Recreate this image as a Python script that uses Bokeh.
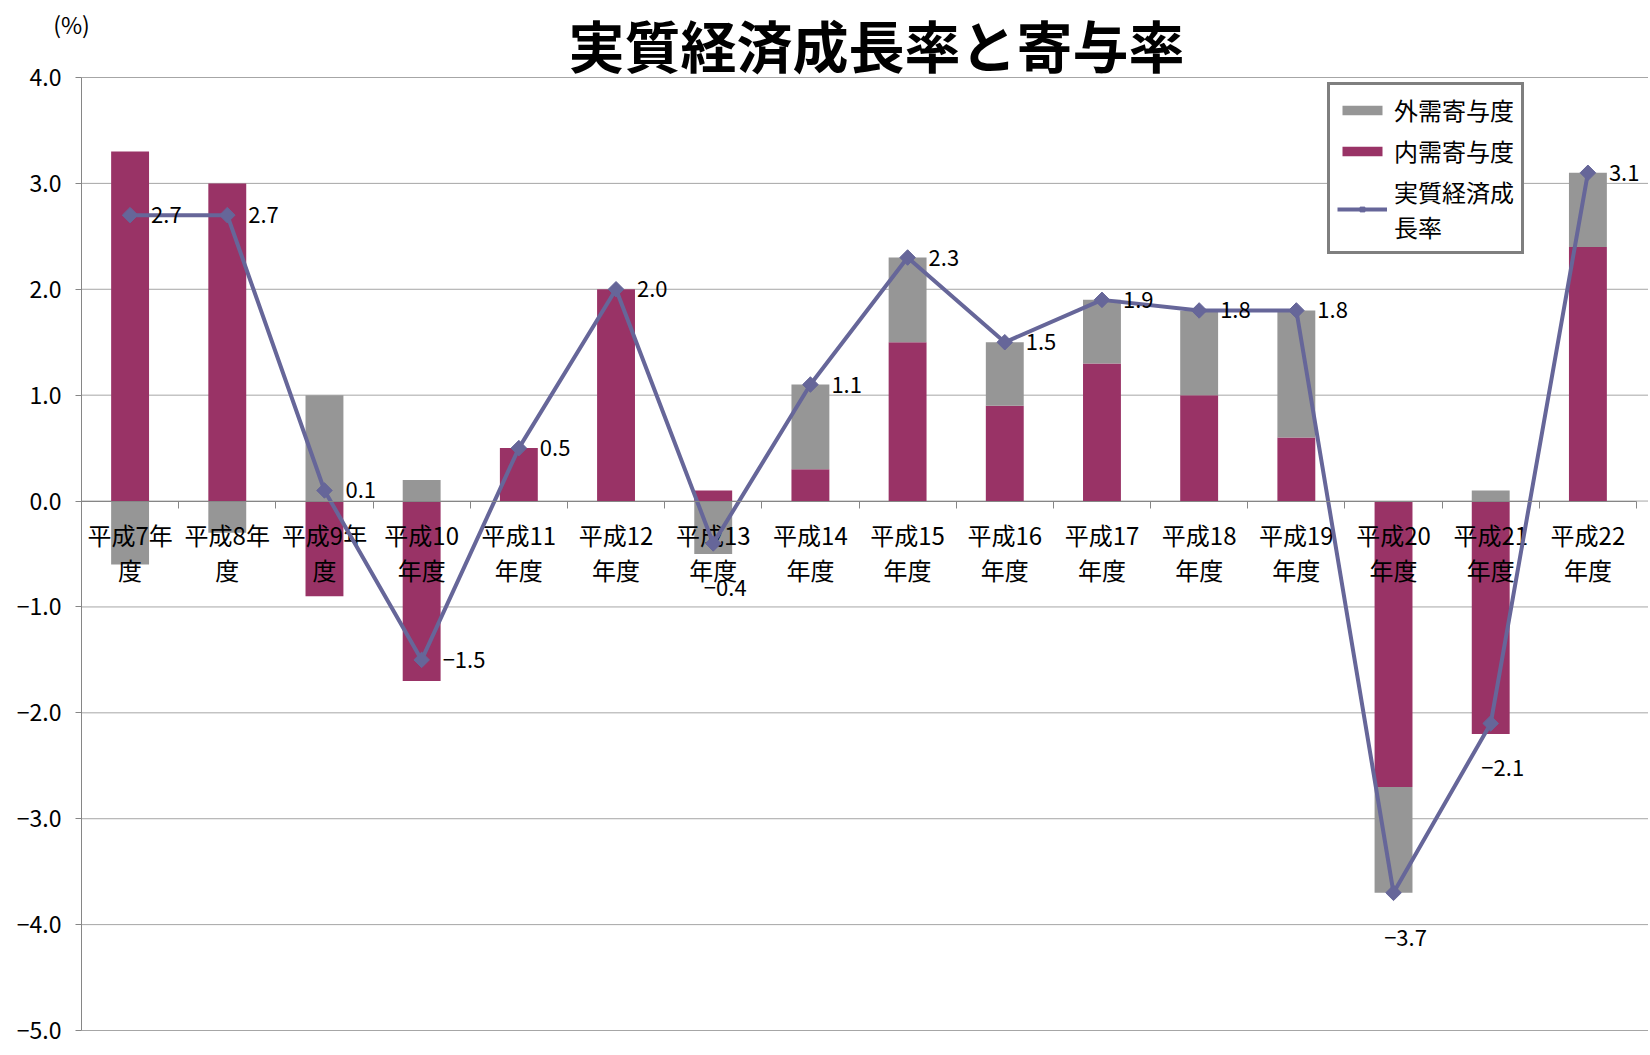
import math
from bokeh.plotting import figure
from bokeh.models import (ColumnDataSource, LabelSet, Label, Legend, LegendItem,
                          FixedTicker, CustomJSTickFormatter, Range1d)
from bokeh.core.properties import value
from bokeh.embed import file_html
from bokeh.resources import INLINE

# ---------------- data ----------------
title_text = "実質経済成長率と寄与率"
unit_text = "(%)"
categories = ["平成7年度", "平成8年度", "平成9年度", "平成10年度", "平成11年度", "平成12年度",
              "平成13年度", "平成14年度", "平成15年度", "平成16年度", "平成17年度", "平成18年度",
              "平成19年度", "平成20年度", "平成21年度", "平成22年度"]
domestic = [3.3, 3.0, -0.9, -1.7, 0.5, 2.0, 0.1, 0.3, 1.5, 0.9, 1.3, 1.0, 0.6, -2.7, -2.2, 2.4]
external = [-0.6, -0.3, 1.0, 0.2, 0.0, 0.0, -0.5, 0.8, 0.8, 0.6, 0.6, 0.8, 1.2, -1.0, 0.1, 0.7]
growth = [2.7, 2.7, 0.1, -1.5, 0.5, 2.0, -0.4, 1.1, 2.3, 1.5, 1.9, 1.8, 1.8, -3.7, -2.1, 3.1]
y_ticks = [4.0, 3.0, 2.0, 1.0, 0.0, -1.0, -2.0, -3.0, -4.0, -5.0]
series_names = ["外需寄与度", "内需寄与度", "実質経済成\n長率"]

# label placement (style): data labels placed below the point for these categories
below_labels = {"平成13年度", "平成20年度", "平成21年度"}

# ---------------- style ----------------
FONT = "Noto Sans CJK JP"
C_EXT = "#969696"
C_DOM = "#993366"
C_LINE = "#666699"
C_GRID = "#a6a6a6"
C_AXIS = "#868686"
W, H = 1648, 1052
LEFT_PX = 81               # pixel column of the value axis
TOP_PX, BOT_PX = 77, 1030  # pixel rows of the top / bottom ticks
RIGHT_PX = 1636            # pixel column of the last category boundary

def fmt(v):
    return ("\u2212" if v < 0 else "") + f"{abs(v):.1f}"

n = len(categories)
ymax, ymin = max(y_ticks), min(y_ticks)
ppu = (BOT_PX - TOP_PX) / (ymax - ymin)
y_hi = ymax + TOP_PX / ppu
y_lo = ymin - (H - BOT_PX) / ppu
ppx = (RIGHT_PX - LEFT_PX) / n
x_lo = -LEFT_PX / ppx
x_hi = n + (W - RIGHT_PX) / ppx

xs = [i + 0.5 for i in range(n)]
dom_b = [0.0] * n
dom_t = list(domestic)
ext_b = [max(d, 0.0) if e >= 0 else min(d, 0.0) for d, e in zip(domestic, external)]
ext_t = [b + e for b, e in zip(ext_b, external)]

src = ColumnDataSource(dict(
    x=xs, db=dom_b, dt=dom_t, eb=ext_b, et=ext_t, g=growth,
    line1=[c[:4] for c in categories], line2=[c[4:] for c in categories],
))

p = figure(width=W, height=H, output_backend="svg", toolbar_location=None,
           x_range=Range1d(x_lo, x_hi), y_range=Range1d(y_lo, y_hi),
           title=None, min_border_left=0, min_border_right=0,
           min_border_top=0, min_border_bottom=0)
p.outline_line_color = None
p.background_fill_color = "white"
p.border_fill_color = "white"

# grid lines (from the value axis to the right edge)
p.xgrid.visible = False
p.ygrid.visible = False
p.segment(x0=[0] * len(y_ticks), x1=[x_hi] * len(y_ticks), y0=y_ticks, y1=y_ticks,
          line_color=C_GRID, line_width=1)

# y axis (drawn at x = 0 inside the frame)
p.yaxis.fixed_location = 0
p.yaxis.ticker = FixedTicker(ticks=y_ticks)
p.yaxis.bounds = (ymin, ymax)
p.yaxis.formatter = CustomJSTickFormatter(
    code="return (tick < 0 ? '\u2212' : '') + Math.abs(tick).toFixed(1);")
p.yaxis.axis_line_color = C_AXIS
p.yaxis.major_tick_line_color = C_AXIS
p.yaxis.major_tick_out = 6
p.yaxis.major_tick_in = 0
p.yaxis.minor_tick_line_color = None
p.yaxis.major_label_text_font = FONT
p.yaxis.major_label_text_font_size = "23px"
p.yaxis.major_label_text_color = "black"
p.yaxis.major_label_standoff = 14

# x axis at zero line, ticks at category boundaries
p.xaxis.fixed_location = 0
p.xaxis.bounds = (0, n)
p.xaxis.ticker = FixedTicker(ticks=list(range(n + 1)))
p.xaxis.formatter = CustomJSTickFormatter(code="return '';")
p.xaxis.axis_line_color = C_AXIS
p.xaxis.major_tick_line_color = C_AXIS
p.xaxis.major_tick_out = 7
p.xaxis.major_tick_in = 0
p.xaxis.minor_tick_line_color = None
p.xaxis.major_label_text_font_size = "1px"
p.xaxis.major_label_standoff = 0

# bars
r_dom = p.vbar(x="x", bottom="db", top="dt", width=0.39, source=src,
               fill_color=C_DOM, line_color=None)
r_ext = p.vbar(x="x", bottom="eb", top="et", width=0.39, source=src,
               fill_color=C_EXT, line_color=None)

# category labels (inside plot, under zero line)
p.text(x="x", y=0, text="line1", source=src, y_offset=33, text_align="center",
       text_baseline="middle", text_font=value(FONT), text_font_size="24px", text_color="black")
p.text(x="x", y=0, text="line2", source=src, y_offset=68, text_align="center",
       text_baseline="middle", text_font=value(FONT), text_font_size="24px", text_color="black")

# growth line
r_line = p.line(x="x", y="g", source=src, line_color=C_LINE, line_width=4)
r_mark = p.scatter(x="x", y="g", source=src, marker="square", angle=math.pi / 4, size=11,
                   fill_color=C_LINE, line_color=C_LINE)

# data labels
right_src = ColumnDataSource(dict(
    x=[x for x, c in zip(xs, categories) if c not in below_labels],
    y=[g for g, c in zip(growth, categories) if c not in below_labels],
    t=[fmt(g) for g, c in zip(growth, categories) if c not in below_labels]))
below_src = ColumnDataSource(dict(
    x=[x for x, c in zip(xs, categories) if c in below_labels],
    y=[g for g, c in zip(growth, categories) if c in below_labels],
    t=[fmt(g) for g, c in zip(growth, categories) if c in below_labels]))
p.add_layout(LabelSet(x="x", y="y", text="t", source=right_src, x_offset=21, y_offset=0,
                      text_align="left", text_baseline="middle", text_font=value(FONT),
                      text_font_size="22px", text_color="black"))
p.add_layout(LabelSet(x="x", y="y", text="t", source=below_src, x_offset=12, y_offset=-45,
                      text_align="center", text_baseline="middle", text_font=value(FONT),
                      text_font_size="22px", text_color="black"))

# title and unit
p.add_layout(Label(x=0, y=ymax, x_offset=795, y_offset=34, text=title_text,
                   text_align="center", text_baseline="middle", text_font=FONT,
                   text_font_size="56px", text_font_style="bold", text_color="black"))
p.add_layout(Label(x=0, y=ymax, x_offset=-10, y_offset=54, text=unit_text,
                   text_align="center", text_baseline="middle", text_font=FONT,
                   text_font_size="23px", text_color="black"))

# legend
legend = Legend(items=[
    LegendItem(label=series_names[0], renderers=[r_ext]),
    LegendItem(label=series_names[1], renderers=[r_dom]),
    LegendItem(label=series_names[2], renderers=[r_line, r_mark]),
], location=(1327, 798))
legend.border_line_color = "black"
legend.border_line_width = 3
legend.background_fill_color = "white"
legend.background_fill_alpha = 1.0
legend.label_text_font = FONT
legend.label_text_font_size = "24px"
legend.label_text_line_height = 1.05
legend.label_text_color = "black"
legend.glyph_width = 50
legend.glyph_height = 12
legend.label_standoff = 7
legend.padding = 7
legend.spacing = 6
legend.margin = 0
p.add_layout(legend)

open("out.html", "w").write(file_html(p, INLINE))
